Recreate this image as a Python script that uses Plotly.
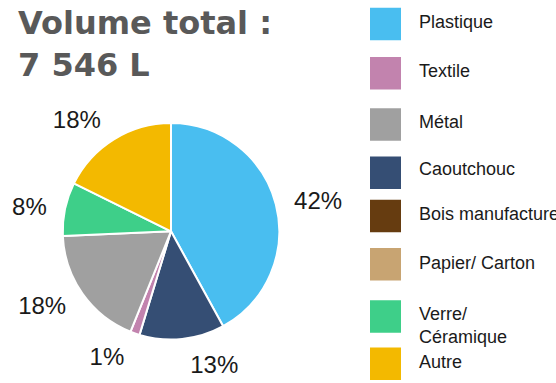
import plotly.graph_objects as go

# Data
legend_labels = ["Plastique", "Textile", "Métal", "Caoutchouc", "Bois manufacture",
                 "Papier/ Carton", "Verre/<br>Céramique", "Autre"]
legend_colors = ["#49BEF0", "#C283AE", "#A0A0A0", "#354E74", "#663C10",
                 "#C8A472", "#3ECF89", "#F3B900"]
pie_labels = ["Plastique", "Caoutchouc", "Textile", "Métal", "Verre/ Céramique", "Autre"]
pie_values = [42.0, 12.7, 1.4, 18.2, 8.0, 17.7]
pie_colors = ["#49BEF0", "#354E74", "#C283AE", "#A0A0A0", "#3ECF89", "#F3B900"]
title_text = "Volume total :<br>7 546 L"

W, H = 556, 383
def px(x): return x / W
def py(y): return 1 - y / H

cx, cy, r = 171, 235, 110
rl = r + 12  # radius of the (invisible) label ring

def dom(rad):
    return dict(x=[px(cx - rad), px(cx + rad)], y=[py(cy + rad), py(cy - rad)])

# invisible pie carrying the outside percentage labels
label_pie = go.Pie(
    labels=pie_labels, values=pie_values, sort=False, direction="clockwise",
    rotation=0, marker=dict(colors=["rgba(0,0,0,0)"] * len(pie_values), line=dict(width=0)),
    textposition="outside", texttemplate="%{percent:.0%}",
    textfont=dict(family="Liberation Sans, Arial", size=24, color="#1a1a1a"),
    domain=dom(rl), showlegend=False, hoverinfo="skip",
)
main_pie = go.Pie(
    labels=pie_labels, values=pie_values, sort=False, direction="clockwise",
    rotation=0,
    marker=dict(colors=pie_colors, line=dict(color="white", width=2)),
    textinfo="none",
    domain=dom(r), showlegend=False, hoverinfo="label+percent",
)
fig = go.Figure([label_pie, main_pie])

shapes = []
annotations = []
sq_tops = [8, 58, 110, 159, 203, 252, 305, 353]
txt_y = [22, 72, 124, 172, 217, 267, 331, 368]
for i, (lab, col) in enumerate(zip(legend_labels, legend_colors)):
    t = sq_tops[i]
    shapes.append(dict(type="rect", xref="paper", yref="paper",
                       x0=px(370), x1=px(401), y0=py(t + 33), y1=py(t),
                       fillcolor=col, line=dict(width=0)))
    annotations.append(dict(xref="paper", yref="paper", x=px(417), y=py(txt_y[i]),
                            xanchor="left", yanchor="middle", text=lab, showarrow=False,
                            align="left",
                            font=dict(family="Liberation Sans, Arial", size=18, color="#1a1a1a")))

annotations.append(dict(xref="paper", yref="paper", x=px(16), y=py(2),
                        xanchor="left", yanchor="top", text="<b>" + title_text + "</b>",
                        showarrow=False, align="left",
                        font=dict(family="DejaVu Sans", size=32, color="#595959")))

fig.update_layout(width=W, height=H, margin=dict(l=0, r=0, t=0, b=0),
                  paper_bgcolor="white", plot_bgcolor="white",
                  shapes=shapes, annotations=annotations)
fig.write_html("out.html", config={"displayModeBar": False},
               post_script="document.body.style.margin='0';document.body.style.overflow='hidden';")
